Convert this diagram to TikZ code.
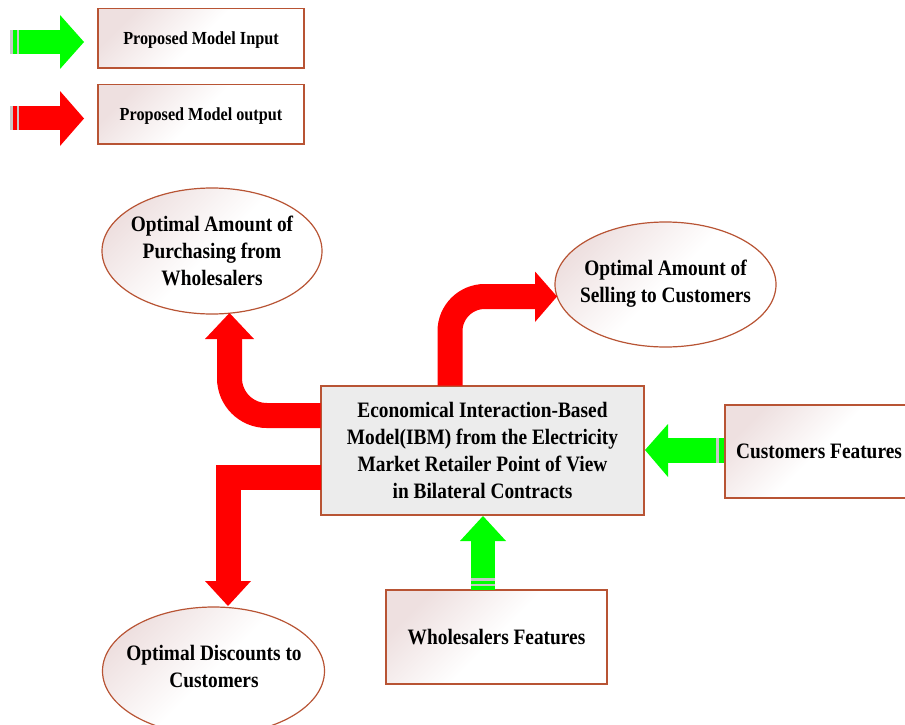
\documentclass[tikz,border=0pt]{standalone}
\usepackage{fontspec}
\setmainfont[FakeStretch=0.88]{Liberation Serif}
\usetikzlibrary{shapes.geometric}
\definecolor{bord}{RGB}{184,84,52}
\definecolor{pinkish}{RGB}{238,224,224}
\definecolor{centerfill}{RGB}{236,236,236}
\definecolor{arrred}{RGB}{255,0,0}
\definecolor{arrgreen}{RGB}{0,255,0}
\definecolor{stripe}{RGB}{200,200,200}
\tikzset{
  mainfont/.style={font=\fontsize{16.5}{20.25}\selectfont\bfseries},
  legfont/.style={font=\fontsize{13.8}{16}\selectfont\bfseries},
  softfill/.style={left color=pinkish, right color=white, middle color=white, shading angle=45},
  boxstyle/.style={draw=bord, line width=1.1pt, softfill, inner sep=0pt, align=center},
  ellstyle/.style={ellipse, draw=bord, line width=0.9pt, softfill, inner sep=0pt},
  txt/.style={inner sep=0pt, align=center, mainfont},
  redshaft/.style={draw=arrred, line width=18.75pt, line cap=butt},
}
\begin{document}
\begin{tikzpicture}[x=0.75pt,y=-0.75pt]
\clip (0,0) rectangle (905,724);
\fill[white] (0,0) rectangle (905,724);

% legend
\node[boxstyle, minimum width=154.5pt, minimum height=44.6pt] (leg1) at (201,38.25) {};
\node[txt, legfont] (leg1t) at (201,40) {Proposed Model Input};
\node[boxstyle, minimum width=154.5pt, minimum height=44.6pt] (leg2) at (201,114.25) {};
\node[txt, legfont] (leg2t) at (201,116) {Proposed Model output};

% legend green arrow
\fill[stripe] (10,30.5) rectangle (21,54);
\fill[arrgreen] (12.5,30.5) rectangle (16.5,54);
\fill[arrgreen] (18.5,30.5) rectangle (60,54);
\fill[arrgreen] (60,15) -- (84,42) -- (60,69) -- cycle;
% legend red arrow
\fill[stripe] (10,106) rectangle (21,130);
\fill[arrred] (12.5,106) rectangle (16.5,130);
\fill[arrred] (18.5,106) rectangle (60,130);
\fill[arrred] (60,91) -- (84,118.5) -- (60,146) -- cycle;

% main nodes
\node[draw=bord, line width=1.1pt, fill=centerfill, inner sep=0pt, align=center, mainfont,
      minimum width=242.25pt, minimum height=96.75pt] (cb) at (482.5,450.5)
  {Economical Interaction-Based\\Model(IBM) from the Electricity\\Market Retailer Point of View\\in Bilateral Contracts};
\node[boxstyle, mainfont, minimum width=141pt, minimum height=69.75pt] (cf) at (819,451.5) {Customers Features};
\node[boxstyle, mainfont, minimum width=165.75pt, minimum height=70.5pt] (wf) at (496.5,637) {Wholesalers Features};

\node[ellstyle, minimum width=165pt, minimum height=94.5pt] (e1) at (212,251) {};
\node[txt] (e1t) at (e1.center) {Optimal Amount of\\Purchasing from\\Wholesalers};
\node[ellstyle, minimum width=165.75pt, minimum height=93.75pt] (e2) at (665.5,284.5) {};
\node[txt] (e2t) at (665.5,283.5) {Optimal Amount of\\Selling to Customers};
\node[ellstyle, minimum width=166.5pt, minimum height=96pt] (e3) at (213.5,671) {};
\node[txt] (e3t) at (214,666.5) {Optimal Discounts to\\Customers};

% red output arrow: top-left (purchasing)
\draw[redshaft, rounded corners=28pt] (320.5,415.5) -- (229.5,415.5) -- (229.5,338);
\fill[arrred] (205,339) -- (254,339) -- (229.5,313) -- cycle;
% red output arrow: top-right (selling)
\draw[redshaft, rounded corners=26pt] (450,385.5) -- (450,296.5) -- (536,296.5);
\fill[arrred] (535,271.5) -- (535,322) -- (557,296.5) -- cycle;
% red output arrow: bottom-left (discounts)
\draw[redshaft, line join=miter] (320.5,477) -- (228,477) -- (228,582);
\fill[arrred] (205,581) -- (251,581) -- (228,606) -- cycle;

% green input arrow from customers features
\fill[arrgreen] (667,437.5) rectangle (716,462.5);
\fill[stripe] (716,437.5) rectangle (724,462.5);
\fill[arrgreen] (718.5,437.5) rectangle (724,462.5);
\fill[arrgreen] (668,424) -- (668,477) -- (645,450) -- cycle;
% green input arrow from wholesalers features
\fill[arrgreen] (471,540) rectangle (495,578);
\fill[stripe] (471,578) rectangle (495,589.5);
\fill[arrgreen] (471,580.5) rectangle (495,584);
\fill[arrgreen] (471,586) rectangle (495,589.5);
\fill[arrgreen] (460,541) -- (506,541) -- (483,516) -- cycle;
\end{tikzpicture}
\end{document}
